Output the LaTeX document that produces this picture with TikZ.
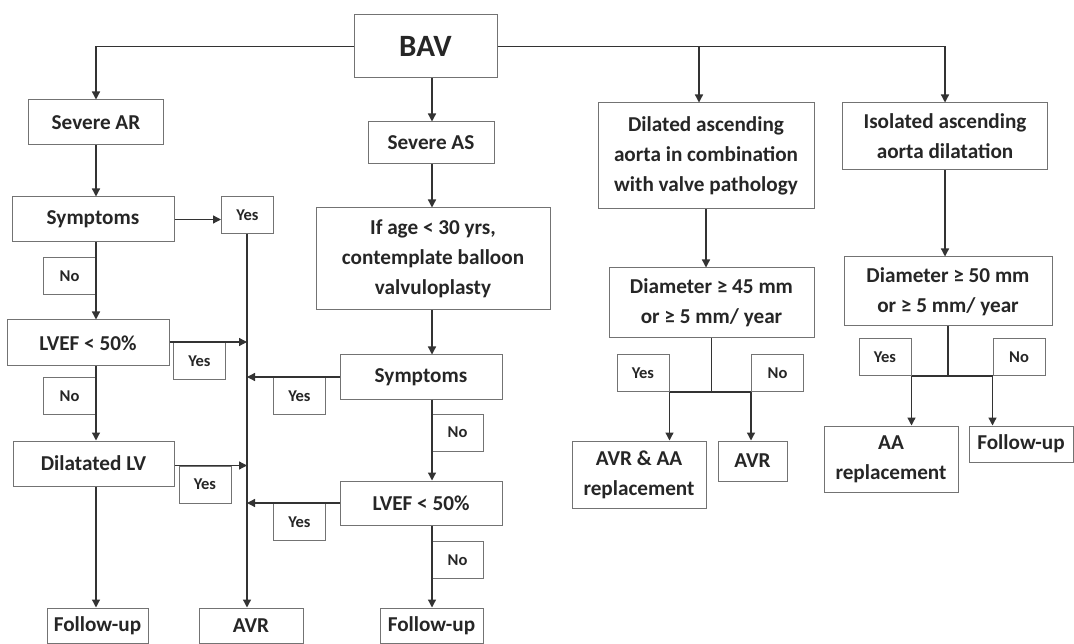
\documentclass[tikz,border=0pt]{standalone}
\usepackage{fontspec}
\setmainfont{Carlito}
\usetikzlibrary{arrows.meta}

\begin{document}
\begin{tikzpicture}[x=1pt,y=-1pt,
    box/.style={draw=black!55,line width=1pt,align=center,inner sep=0pt,
      font=\bfseries\fontsize{21.2}{30}\selectfont,text=black!85},
    lab/.style={draw=black!55,line width=1pt,inner sep=0pt,minimum width=52pt,
      minimum height=37pt,font=\bfseries\fontsize{16.5}{19}\selectfont,text=black!85},
    arr/.style={-{Triangle[length=8pt,width=8pt]},line width=1.3pt,black!80},
    ln/.style={line width=1.3pt,black!80}]
  \useasboundingbox (0,0) rectangle (1074,644);
  \def \Nodes{
    ar/96/122.5/135/45/Severe AR,
    sympL/93/219.5/162/45/Symptoms,
    lvefL/88/343/162/46/LVEF < 50\%,
    dlv/93.5/463.5/161/45/Dilatated LV,
    fuL/97.5/625.5/101/35/Follow-up,
    avr/251/625.5/104/35/AVR,
    fuM/431.5/625.5/103/35/Follow-up,
    as/431/143/126/42/Severe AS,
    age/433/259/234/102/{If age < 30 yrs,\\contemplate balloon\\valvuloplasty},
    sympM/421/377/162/44/Symptoms,
    lvefM/421/503/162/44/LVEF < 50\%,
    dil/706/156/216/106/{Dilated ascending\\aorta in combination\\with valve pathology},
    iso/945/136.5/205/67/{Isolated ascending\\aorta dilatation},
    d45/711.5/303/205/70/{Diameter ≥ 45 mm\\or ≥ 5 mm/ year},
    d50/948/291.5/208/69/{Diameter ≥ 50 mm\\or ≥ 5 mm/ year},
    avraa/639/474.5/134/67/{AVR \& AA\\replacement},
    avr2/752.5/461/69/40/AVR,
    aa/891/459/134/66/{AA\\replacement},
    fuR/1021/444/104/36/Follow-up}
  \def \Labels{
    y1/247.5/215/Yes,
    n1/69.5/276/No,
    y2/199.5/361/Yes,
    n2/69.5/396/No,
    y3/205/484.5/Yes,
    y4/299.5/396/Yes,
    n3/457.5/432.5/No,
    y5/299.5/522/Yes,
    n4/457.5/560/No,
    y6/643/373/Yes,
    n5/777.5/373/No,
    y7/885/357/Yes,
    n6/1019/357/No}
  \node[box,minimum width=143pt,minimum height=63pt,
    font=\bfseries\fontsize{31}{36}\selectfont] (bav) at (425.5,46.5) {BAV};
  \foreach \id / \x / \y / \w / \h / \txt in \Nodes{
    \node[box,minimum width=\w pt,minimum height=\h pt] (\id) at (\x, \y) {\txt};
  }
  \foreach \id / \x / \y / \txt in \Labels{
    \node[lab] (\id) at (\x, \y) {\txt};
  }
  \coordinate (cL) at (96,0);
  \coordinate (cA) at (247,0);
  \coordinate (cM) at (432,0);
  \coordinate (tdil) at (699,46.5);
  % columns
  \foreach \c / \a / \b in {cL/ar/sympL, cL/sympL/lvefL, cL/lvefL/dlv, cL/dlv/fuL,
      cM/bav/as, cM/as/age, cM/age/sympM, cM/sympM/lvefM, cM/lvefM/fuM, cA/y1/avr}{
    \draw[arr] (\c |- \a.south) -- (\c |- \b.north);
  }
  % top branches
  \draw[arr] (bav.west) -| (ar.north);
  \draw[arr] (bav.east) -| (iso.north);
  \draw[arr] (tdil) -- (tdil |- dil.north);
  % yes branches to AVR
  \draw[arr] (sympL.east) -- (sympL.east -| y1.west);
  \draw[arr] (lvefL.east |- y2.north) -- (cA |- y2.north);
  \draw[arr] (dlv.east |- y3.north) -- (cA |- y3.north);
  \draw[arr] (sympM.west |- y4.north) -- (cA |- y4.north);
  \draw[arr] (lvefM.west |- y5.north) -- (cA |- y5.north);
  % aorta
  \draw[arr] (dil.south) -- (dil.south |- d45.north);
  \draw[arr] (iso.south) -- (iso.south |- d50.north);
  \draw[ln] (d45.south) -- (d45.south |- y6.south);
  \draw[ln] (y6.south east) -- (n5.south west);
  \draw[arr] (y6.south east) -- (y6.south east |- avraa.north);
  \draw[arr] (n5.south west) -- (n5.south west |- avr2.north);
  \draw[ln] (d50.south) -- (d50.south |- y7.south);
  \draw[ln] (y7.south east) -- (n6.south west);
  \draw[arr] (y7.south east) -- (y7.south east |- aa.north);
  \draw[arr] (n6.south west) -- (n6.south west |- fuR.north);
\end{tikzpicture}
\end{document}
